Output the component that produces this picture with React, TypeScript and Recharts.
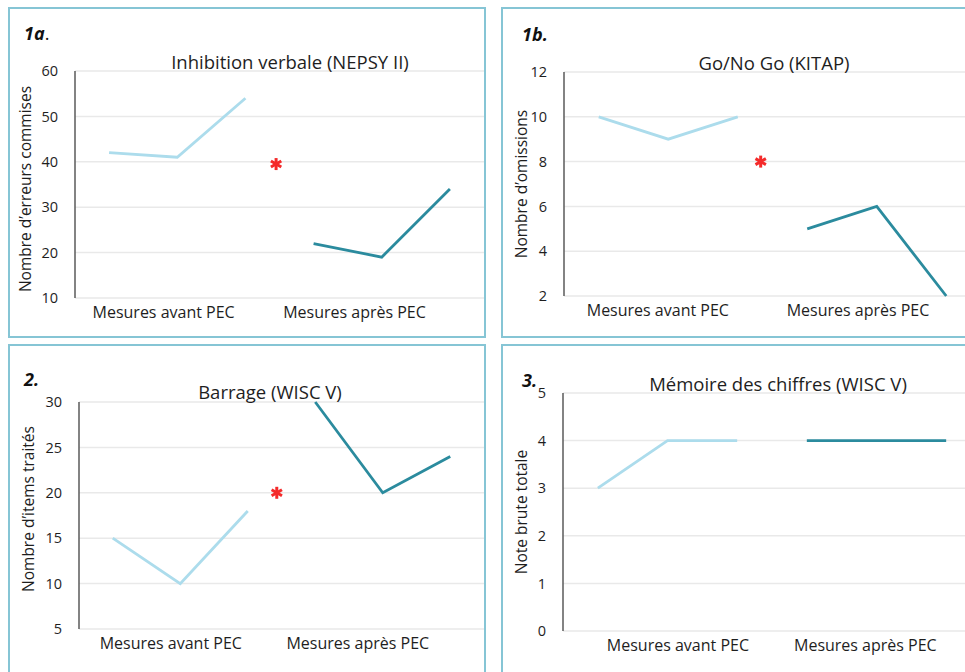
import React from "react";
import {
  CartesianGrid,
  ComposedChart,
  Line,
  ReferenceDot,
  XAxis,
  YAxis,
} from "recharts";

const categories = ["Mesures avant PEC", "Mesures après PEC"];

const inhibitionAvant = [42, 41, 54];
const inhibitionApres = [22, 19, 34];
const inhibitionTicks = [10, 20, 30, 40, 50, 60];

const goNoGoAvant = [10, 9, 10];
const goNoGoApres = [5, 6, 2];
const goNoGoTicks = [2, 4, 6, 8, 10, 12];

const barrageAvant = [15, 10, 18];
const barrageApres = [30, 20, 24];
const barrageTicks = [5, 10, 15, 20, 25, 30];

const memoireAvant = [3, 4, 4];
const memoireApres = [4, 4, 4];
const memoireTicks = [0, 1, 2, 3, 4, 5];

// significance stars, x on the 6-session scale, y in axis units
const inhibitionStar = { x: 2.45, y: 39.5 };
const goNoGoStar = { x: 2.33, y: 8 };
const barrageStar = { x: 2.43, y: 20 };

const FONT = "'Open Sans', sans-serif";
const LIGHT = "#acdcec";
const DARK = "#2b8b9e";
const BORDER = "#86c5d5";
const AXIS = "#5a5a5a";
const GRID = "#e9e9e9";
const TEXT = "#1e1e1e";

type Box = { x: number; y: number; w: number; h: number };
type Plot = { left: number; top: number; right: number; bottom: number };
type Pt = { x: number; y: number };

function buildRows(avant: number[], apres: number[]) {
  const rows: { x: number; avant: number | null; apres: number | null }[] = [];
  avant.forEach((v, i) => rows.push({ x: i, avant: v, apres: null }));
  apres.forEach((v, i) => rows.push({ x: avant.length + i, avant: null, apres: v }));
  return rows;
}

function Asterisk(props: any) {
  const { cx, cy } = props;
  const r = 6;
  const arms = [90, 30, 150].map((deg) => {
    const a = (deg * Math.PI) / 180;
    return (
      <line
        key={deg}
        x1={cx - r * Math.cos(a)}
        y1={cy - r * Math.sin(a)}
        x2={cx + r * Math.cos(a)}
        y2={cy + r * Math.sin(a)}
        stroke="#f42a2a"
        strokeWidth={3}
      />
    );
  });
  return <g>{arms}</g>;
}

function Panel({
  box,
  plot,
  tag,
  tagPos,
  title,
  titlePos,
  yLabel,
  yLabelPos,
  ticks,
  catTicks,
  avant,
  apres,
  star,
}: {
  box: Box;
  plot: Plot;
  tag: React.ReactNode;
  tagPos: Pt;
  title: string;
  titlePos: Pt;
  yLabel: string;
  yLabelPos: Pt;
  ticks: number[];
  catTicks: number[];
  avant: number[];
  apres: number[];
  star?: Pt;
}) {
  const yAxisWidth = 40;
  const xAxisHeight = 30;
  const margin = {
    left: plot.left - box.x - yAxisWidth,
    top: plot.top - box.y,
    right: box.x + box.w - plot.right,
    bottom: box.y + box.h - plot.bottom - xAxisHeight,
  };
  const rows = buildRows(avant, apres);
  return (
    <>
      <div
        style={{
          position: "absolute",
          left: box.x,
          top: box.y,
          width: box.w,
          height: box.h,
          boxSizing: "border-box",
          border: `2px solid ${BORDER}`,
        }}
      />
      <div style={{ position: "absolute", left: box.x, top: box.y }}>
        <ComposedChart width={box.w} height={box.h} data={rows} margin={margin}>
          <CartesianGrid vertical={false} stroke={GRID} strokeWidth={1.5} />
          <XAxis
            type="number"
            dataKey="x"
            domain={[-0.5, 5.5]}
            ticks={catTicks}
            interval={0}
            tickFormatter={(_v: number, i: number) => categories[i]}
            axisLine={false}
            tickLine={false}
            height={xAxisHeight}
            tickMargin={3}
            tick={{ fontSize: 16, fill: TEXT, fontFamily: FONT }}
          />
          <YAxis
            type="number"
            domain={[ticks[0], ticks[ticks.length - 1]]}
            ticks={ticks}
            interval={0}
            width={yAxisWidth}
            tickLine={false}
            tickMargin={11}
            axisLine={{ stroke: AXIS, strokeWidth: 1.5 }}
            tick={{ fontSize: 14.5, fill: TEXT, fontFamily: FONT }}
          />
          <Line
            type="linear"
            dataKey="avant"
            stroke={LIGHT}
            strokeWidth={2.8}
            dot={false}
            isAnimationActive={false}
          />
          <Line
            type="linear"
            dataKey="apres"
            stroke={DARK}
            strokeWidth={2.8}
            dot={false}
            isAnimationActive={false}
          />
          {star ? <ReferenceDot x={star.x} y={star.y} shape={Asterisk} /> : null}
        </ComposedChart>
      </div>
      <div
        style={{
          position: "absolute",
          left: tagPos.x,
          top: tagPos.y - 12,
          fontFamily: FONT,
          fontSize: 18,
          lineHeight: "24px",
          fontWeight: 700,
          fontStyle: "italic",
          color: "#111",
        }}
      >
        {tag}
      </div>
      <div
        style={{
          position: "absolute",
          left: titlePos.x,
          top: titlePos.y,
          transform: "translate(-50%, -50%)",
          fontFamily: FONT,
          fontSize: 18.5,
          lineHeight: "22px",
          whiteSpace: "nowrap",
          color: TEXT,
        }}
      >
        {title}
      </div>
      <div
        style={{
          position: "absolute",
          left: yLabelPos.x,
          top: yLabelPos.y,
          transform: "translate(-50%, -50%) rotate(-90deg)",
          fontFamily: FONT,
          fontSize: 15.5,
          lineHeight: "18px",
          whiteSpace: "nowrap",
          color: TEXT,
        }}
      >
        {yLabel}
      </div>
    </>
  );
}

export default function App() {
  return (
    <div
      style={{
        position: "absolute",
        left: 0,
        top: 0,
        width: 965,
        height: 672,
        overflow: "hidden",
        background: "#fff",
      }}
    >
      <Panel
        box={{ x: 8, y: 7, w: 478, h: 331 }}
        plot={{ left: 75, top: 71, right: 484, bottom: 298 }}
        tag={
          <>
            1a
            <span style={{ fontWeight: 400, fontStyle: "normal" }}>.</span>
          </>
        }
        tagPos={{ x: 24, y: 33 }}
        title="Inhibition verbale (NEPSY II)"
        titlePos={{ x: 290, y: 62 }}
        yLabel="Nombre d’erreurs commises"
        yLabelPos={{ x: 25, y: 189 }}
        ticks={inhibitionTicks}
        catTicks={[0.8, 3.6]}
        avant={inhibitionAvant}
        apres={inhibitionApres}
        star={inhibitionStar}
      />
      <Panel
        box={{ x: 501, y: 7, w: 500, h: 331 }}
        plot={{ left: 564, top: 72, right: 981, bottom: 296 }}
        tag="1b."
        tagPos={{ x: 522, y: 34 }}
        title="Go/No Go (KITAP)"
        titlePos={{ x: 774, y: 63 }}
        yLabel="Nombre d’omissions"
        yLabelPos={{ x: 521, y: 184 }}
        ticks={goNoGoTicks}
        catTicks={[0.85, 3.73]}
        avant={goNoGoAvant}
        apres={goNoGoApres}
        star={goNoGoStar}
      />
      <Panel
        box={{ x: 8, y: 344, w: 478, h: 340 }}
        plot={{ left: 79, top: 402, right: 484, bottom: 629 }}
        tag="2."
        tagPos={{ x: 24, y: 379 }}
        title="Barrage (WISC V)"
        titlePos={{ x: 270, y: 392 }}
        yLabel="Nombre d’items traités"
        yLabelPos={{ x: 28, y: 509 }}
        ticks={barrageTicks}
        catTicks={[0.86, 3.63]}
        avant={barrageAvant}
        apres={barrageApres}
        star={barrageStar}
      />
      <Panel
        box={{ x: 501, y: 344, w: 500, h: 340 }}
        plot={{ left: 563, top: 393, right: 981, bottom: 631 }}
        tag="3."
        tagPos={{ x: 522, y: 380 }}
        title="Mémoire des chiffres (WISC V)"
        titlePos={{ x: 778, y: 384 }}
        yLabel="Note brute totale"
        yLabelPos={{ x: 521, y: 512 }}
        ticks={memoireTicks}
        catTicks={[1.15, 3.84]}
        avant={memoireAvant}
        apres={memoireApres}
      />
    </div>
  );
}
